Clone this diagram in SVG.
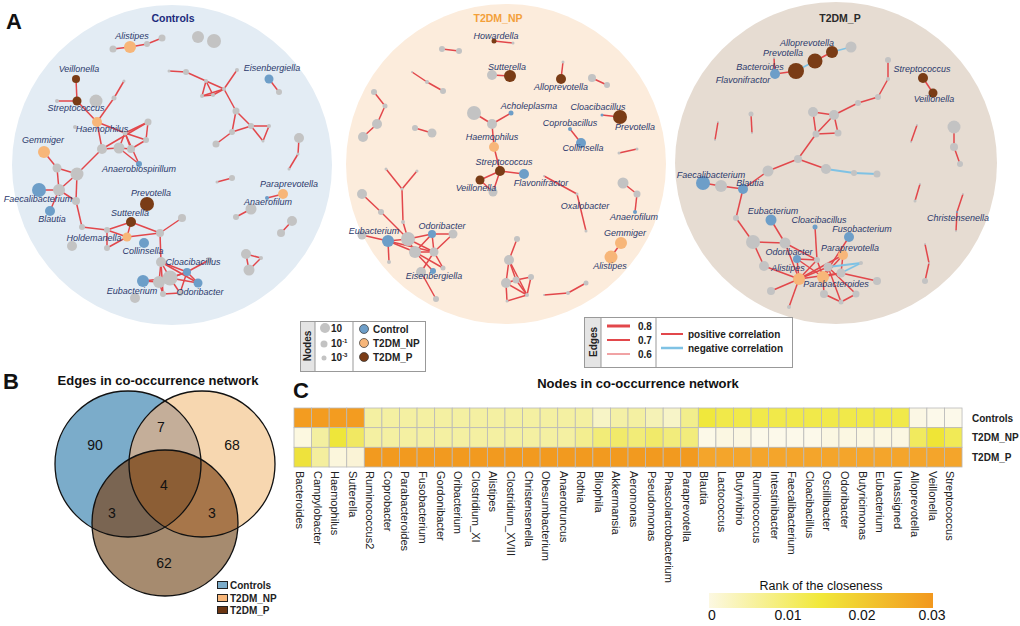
<svg xmlns="http://www.w3.org/2000/svg" width="1020" height="626" viewBox="0 0 1020 626">
<defs>
<style>
text{font-family:"Liberation Sans",Arial,sans-serif}
.g{fill:#c3c3c3}.b{fill:#6d9ec8}.o{fill:#f7b679}.br{fill:#7a3c16}
.e line{stroke:#e2474b;stroke-width:1.5}
.e line.n{stroke:#7fc2e4;stroke-width:1.8}
.lb{font-style:italic;font-size:9px;fill:#2c3a6c;text-anchor:middle}
.pl{font-weight:bold;font-size:22px;fill:#111}
.lg{font-weight:bold;font-size:10px;fill:#222}
.cl{font-size:11px;fill:#222}
.vn{font-size:14px;fill:#111;text-anchor:middle}
.hm rect{stroke:#b9b9b9;stroke-width:0.8}
</style>
<linearGradient id="cbar" x1="0" x2="1" y1="0" y2="0">
<stop offset="0" stop-color="#fcf8e2"/>
<stop offset="0.5" stop-color="#f1e83a"/>
<stop offset="1" stop-color="#f2981e"/>
</linearGradient>
<clipPath id="cA"><circle cx="128" cy="464" r="73"/></clipPath>
<clipPath id="cB"><circle cx="202" cy="464" r="73"/></clipPath>
</defs>
<rect width="1020" height="626" fill="#fff"/>

<!-- panel backgrounds -->
<circle cx="172" cy="165" r="160" fill="#e3ecf4"/>
<circle cx="506" cy="164" r="160" fill="#fcecdc"/>
<circle cx="836" cy="163" r="161" fill="#e6dcd2"/>
<text class="pl" x="6" y="29">A</text>
<text x="173" y="22" font-weight="bold" font-size="10.5" fill="#1c2a7c" text-anchor="middle">Controls</text>
<text x="498" y="22" font-weight="bold" font-size="10.5" fill="#f3a03a" text-anchor="middle">T2DM_NP</text>
<text x="840" y="22" font-weight="bold" font-size="10.5" fill="#2a2a2a" text-anchor="middle">T2DM_P</text>

<g id="connectors" class="e">
<g id="edges-controls">
<line x1="113" y1="49" x2="130" y2="47"/><line x1="130" y1="47" x2="147" y2="44"/><line x1="147" y1="44" x2="162" y2="38"/>
<line x1="76" y1="79" x2="77" y2="101"/><line x1="57" y1="101" x2="77" y2="101"/><line x1="77" y1="101" x2="97" y2="122"/>
<line x1="97" y1="122" x2="114" y2="98"/><line x1="114" y1="98" x2="124" y2="81"/><line x1="97" y1="122" x2="102" y2="149"/>
<line x1="97" y1="122" x2="125" y2="133"/><line x1="102" y1="149" x2="119" y2="148"/><line x1="102" y1="149" x2="148" y2="122"/>
<line x1="119" y1="148" x2="125" y2="133"/><line x1="119" y1="148" x2="131" y2="149"/><line x1="125" y1="133" x2="148" y2="122"/>
<line x1="125" y1="133" x2="146" y2="140"/><line x1="131" y1="149" x2="146" y2="140"/><line x1="146" y1="140" x2="148" y2="122"/>
<line x1="119" y1="148" x2="139" y2="164"/><line x1="125" y1="133" x2="139" y2="164"/><line x1="131" y1="149" x2="125" y2="133"/>
<line x1="44" y1="152" x2="57" y2="168"/><line x1="57" y1="168" x2="77" y2="174"/><line x1="57" y1="168" x2="59" y2="190"/>
<line x1="77" y1="174" x2="59" y2="190"/><line x1="39" y1="190" x2="59" y2="190"/><line x1="59" y1="190" x2="76" y2="201"/>
<line x1="77" y1="174" x2="76" y2="201"/><line x1="59" y1="190" x2="50" y2="211"/><line x1="77" y1="174" x2="102" y2="149"/>
<line x1="76" y1="201" x2="82" y2="227"/><line x1="82" y1="227" x2="107" y2="230"/><line x1="107" y1="230" x2="131" y2="222"/>
<line x1="107" y1="230" x2="127" y2="237"/><line x1="131" y1="222" x2="127" y2="237"/><line x1="107" y1="230" x2="107" y2="248"/>
<line x1="107" y1="248" x2="127" y2="237"/><line x1="127" y1="237" x2="160" y2="233"/><line x1="131" y1="222" x2="160" y2="233"/>
<line x1="160" y1="233" x2="182" y2="218"/><line x1="160" y1="233" x2="161" y2="262"/>
<line x1="161" y1="262" x2="170" y2="278"/><line x1="161" y1="262" x2="159" y2="282"/><line x1="161" y1="262" x2="187" y2="272"/>
<line x1="161" y1="262" x2="198" y2="283"/><line x1="161" y1="262" x2="163" y2="294"/><line x1="143" y1="281" x2="159" y2="282"/>
<line x1="143" y1="281" x2="170" y2="278"/><line x1="159" y1="282" x2="163" y2="294"/><line x1="170" y1="278" x2="187" y2="272"/>
<line x1="170" y1="278" x2="180" y2="293"/><line x1="187" y1="272" x2="209" y2="260"/><line x1="187" y1="272" x2="198" y2="283"/>
<line x1="187" y1="272" x2="180" y2="293"/><line x1="159" y1="282" x2="187" y2="272"/><line x1="163" y1="294" x2="180" y2="293"/>
<line x1="170" y1="278" x2="198" y2="283"/>
<line x1="169" y1="71" x2="186" y2="72"/><line x1="186" y1="72" x2="206" y2="81"/><line x1="206" y1="81" x2="224" y2="89"/>
<line x1="237" y1="70" x2="224" y2="89"/><line x1="206" y1="81" x2="202" y2="96"/><line x1="202" y1="96" x2="224" y2="89"/>
<line x1="206" y1="81" x2="213" y2="95"/><line x1="213" y1="95" x2="224" y2="89"/><line x1="202" y1="96" x2="213" y2="95"/>
<line x1="224" y1="89" x2="236" y2="111"/><line x1="236" y1="111" x2="251" y2="126"/><line x1="236" y1="111" x2="232" y2="132"/>
<line x1="232" y1="132" x2="251" y2="126"/><line x1="251" y1="126" x2="269" y2="126"/><line x1="269" y1="126" x2="263" y2="141"/>
<line x1="251" y1="126" x2="263" y2="141"/><line x1="232" y1="132" x2="216" y2="144"/>
<line x1="269" y1="79" x2="279" y2="92"/>
<line x1="299" y1="138" x2="298" y2="154"/><line x1="298" y1="154" x2="289" y2="169"/>
<line x1="232" y1="178" x2="217" y2="182"/>
<line x1="283" y1="194" x2="267" y2="198"/><line x1="251" y1="209" x2="236" y2="217"/>
<line x1="292" y1="221" x2="281" y2="233"/>
<line x1="246" y1="254" x2="261" y2="258"/><line x1="261" y1="258" x2="249" y2="270"/><line x1="246" y1="254" x2="249" y2="270"/>
</g>
<g id="edges-t2dm-np">
<line x1="494" y1="41" x2="513" y2="43"/><line x1="442" y1="49" x2="459" y2="51"/><line x1="492" y1="75" x2="510" y2="76"/>
<line x1="563" y1="62" x2="561" y2="79"/><line x1="592" y1="78" x2="607" y2="85"/>
<line x1="412" y1="72" x2="427" y2="82"/><line x1="427" y1="82" x2="443" y2="91"/>
<line x1="374" y1="92" x2="385" y2="106"/><line x1="385" y1="106" x2="377" y2="124"/><line x1="377" y1="124" x2="363" y2="137"/>
<line x1="415" y1="128" x2="432" y2="133"/>
<line x1="474" y1="113" x2="492" y2="124"/><line x1="492" y1="124" x2="511" y2="113"/><line x1="492" y1="124" x2="494" y2="147"/>
<line x1="494" y1="147" x2="500" y2="171"/><line x1="500" y1="171" x2="524" y2="174"/><line x1="500" y1="171" x2="480" y2="180"/>
<line x1="500" y1="171" x2="493" y2="192"/><line x1="480" y1="180" x2="493" y2="192"/>
<line x1="602" y1="115" x2="620" y2="117"/><line x1="570" y1="129" x2="581" y2="143"/><line x1="619" y1="153" x2="637" y2="149"/>
<line x1="544" y1="176" x2="577" y2="194"/><line x1="577" y1="194" x2="586" y2="231"/>
<line x1="623" y1="183" x2="637" y2="194"/><line x1="637" y1="194" x2="635" y2="212"/>
<line x1="621" y1="243" x2="611" y2="257"/>
<line x1="386" y1="169" x2="402" y2="189"/><line x1="417" y1="171" x2="402" y2="189"/><line x1="402" y1="189" x2="403" y2="222"/>
<line x1="362" y1="194" x2="381" y2="212"/><line x1="381" y1="212" x2="408" y2="239"/><line x1="403" y1="222" x2="408" y2="239"/>
<line x1="362" y1="235" x2="388" y2="241"/><line x1="388" y1="241" x2="408" y2="239"/><line x1="388" y1="241" x2="415" y2="252"/>
<line x1="388" y1="241" x2="389" y2="262"/><line x1="388" y1="241" x2="434" y2="252"/><line x1="408" y1="239" x2="432" y2="234"/>
<line x1="432" y1="234" x2="453" y2="234"/><line x1="408" y1="239" x2="415" y2="252"/><line x1="408" y1="239" x2="434" y2="252"/>
<line x1="415" y1="252" x2="434" y2="252"/><line x1="415" y1="252" x2="433" y2="271"/><line x1="415" y1="252" x2="443" y2="268"/>
<line x1="434" y1="252" x2="421" y2="272"/><line x1="434" y1="252" x2="443" y2="268"/><line x1="432" y1="234" x2="415" y2="252"/>
<line x1="432" y1="234" x2="434" y2="252"/><line x1="421" y1="272" x2="436" y2="299"/><line x1="453" y1="234" x2="434" y2="252"/>
<line x1="517" y1="239" x2="509" y2="260"/><line x1="509" y1="260" x2="506" y2="283"/><line x1="509" y1="260" x2="516" y2="280"/>
<line x1="506" y1="283" x2="516" y2="280"/><line x1="516" y1="280" x2="531" y2="277"/><line x1="516" y1="280" x2="527" y2="295"/>
<line x1="506" y1="283" x2="527" y2="295"/><line x1="507" y1="301" x2="527" y2="295"/><line x1="506" y1="283" x2="507" y2="301"/>
<line x1="531" y1="277" x2="527" y2="295"/><line x1="509" y1="260" x2="527" y2="295"/>
<line x1="544" y1="295" x2="568" y2="293"/><line x1="568" y1="293" x2="586" y2="283"/>
</g>
<g id="edges-t2dm-p">
<line class="n" x1="851" y1="47" x2="832" y2="52"/><line x1="832" y1="52" x2="815" y2="61"/><line class="n" x1="815" y1="61" x2="796" y2="71"/>
<line x1="796" y1="71" x2="775" y2="74"/><line x1="774" y1="58" x2="775" y2="74"/>
<line x1="923" y1="78" x2="933" y2="93"/>
<line x1="888" y1="60" x2="888" y2="79"/><line x1="888" y1="79" x2="878" y2="97"/><line x1="878" y1="97" x2="858" y2="103"/>
<line x1="858" y1="103" x2="834" y2="115"/><line x1="834" y1="115" x2="813" y2="112"/><line x1="813" y1="112" x2="816" y2="134"/>
<line x1="834" y1="115" x2="838" y2="133"/><line x1="816" y1="134" x2="838" y2="133"/><line x1="834" y1="115" x2="816" y2="134"/>
<line x1="816" y1="134" x2="798" y2="159"/><line x1="798" y1="159" x2="768" y2="171"/><line x1="798" y1="159" x2="826" y2="169"/>
<line class="n" x1="826" y1="169" x2="854" y2="173"/><line class="n" x1="854" y1="173" x2="877" y2="174"/>
<line x1="703" y1="183" x2="721" y2="186"/><line x1="721" y1="186" x2="743" y2="189"/><line x1="743" y1="189" x2="768" y2="171"/>
<line x1="743" y1="189" x2="736" y2="218"/><line x1="736" y1="218" x2="753" y2="242"/><line x1="753" y1="242" x2="764" y2="266"/>
<line x1="771" y1="220" x2="785" y2="243"/><line x1="753" y1="242" x2="785" y2="243"/><line x1="785" y1="243" x2="799" y2="279"/>
<line x1="785" y1="243" x2="817" y2="260"/><line x1="764" y1="266" x2="799" y2="279"/><line x1="799" y1="279" x2="771" y2="291"/>
<line x1="799" y1="279" x2="789" y2="307"/><line x1="799" y1="279" x2="817" y2="260"/><line x1="799" y1="279" x2="828" y2="267"/>
<line x1="799" y1="279" x2="841" y2="273"/><line x1="799" y1="279" x2="843" y2="255"/><line x1="799" y1="279" x2="797" y2="259"/>
<line x1="823" y1="277" x2="828" y2="267"/><line x1="823" y1="277" x2="841" y2="273"/><line x1="823" y1="277" x2="824" y2="294"/>
<line x1="823" y1="277" x2="843" y2="255"/><line x1="823" y1="277" x2="849" y2="237"/><line x1="823" y1="277" x2="817" y2="260"/>
<line x1="815" y1="227" x2="817" y2="260"/><line x1="843" y1="255" x2="841" y2="273"/><line x1="841" y1="273" x2="877" y2="281"/>
<line x1="828" y1="267" x2="856" y2="294"/><line x1="828" y1="267" x2="841" y2="302"/><line x1="824" y1="294" x2="841" y2="302"/>
<line x1="841" y1="302" x2="856" y2="294"/><line x1="797" y1="259" x2="823" y2="277"/><line x1="797" y1="259" x2="817" y2="260"/>
<line class="n" x1="828" y1="267" x2="861" y2="263"/><line class="n" x1="841" y1="273" x2="861" y2="263"/>
<line x1="718" y1="122" x2="715" y2="140"/><line x1="751" y1="114" x2="752" y2="133"/><line x1="917" y1="125" x2="911" y2="142"/>
<line x1="954" y1="127" x2="954" y2="147"/><line x1="954" y1="147" x2="960" y2="164"/><line x1="920" y1="184" x2="915" y2="201"/>
<line x1="963" y1="194" x2="957" y2="212"/><line x1="957" y1="212" x2="956" y2="231"/>
<line x1="925" y1="244" x2="929" y2="263"/><line x1="929" y1="263" x2="925" y2="281"/>
</g>
</g>

<g id="nodes-controls">
<circle class="g" cx="113" cy="49" r="3.5"/><circle class="g" cx="147" cy="44" r="3"/><circle class="g" cx="162" cy="38" r="3.5"/>
<circle class="g" cx="198" cy="37" r="6"/><circle class="g" cx="214" cy="41" r="7"/>
<circle class="g" cx="57" cy="101" r="2"/><circle class="g" cx="96" cy="101" r="6.5"/><circle class="g" cx="114" cy="98" r="2.5"/>
<circle class="g" cx="124" cy="81" r="1.5"/><circle class="g" cx="75" cy="127" r="2"/>
<circle class="g" cx="102" cy="149" r="5"/><circle class="g" cx="119" cy="148" r="5.5"/><circle class="g" cx="131" cy="149" r="4"/>
<circle class="g" cx="125" cy="133" r="2.5"/><circle class="g" cx="148" cy="122" r="3.5"/><circle class="g" cx="146" cy="140" r="3"/>
<circle class="g" cx="57" cy="168" r="4.5"/><circle class="g" cx="77" cy="174" r="6.5"/><circle class="g" cx="59" cy="190" r="6"/>
<circle class="g" cx="76" cy="201" r="4"/><circle class="g" cx="82" cy="227" r="3"/><circle class="g" cx="107" cy="230" r="3"/>
<circle class="g" cx="72" cy="246" r="5"/><circle class="g" cx="107" cy="248" r="3"/><circle class="g" cx="160" cy="233" r="4"/>
<circle class="g" cx="182" cy="218" r="4"/><circle class="g" cx="161" cy="262" r="5"/><circle class="g" cx="170" cy="278" r="7.5"/>
<circle class="g" cx="159" cy="282" r="6"/><circle class="g" cx="163" cy="294" r="3"/><circle class="g" cx="135" cy="298" r="5"/>
<circle class="g" cx="209" cy="260" r="3"/><circle class="g" cx="180" cy="293" r="3"/>
<circle class="g" cx="169" cy="71" r="1.5"/><circle class="g" cx="186" cy="72" r="3"/><circle class="g" cx="237" cy="70" r="2"/>
<circle class="g" cx="206" cy="81" r="2"/><circle class="g" cx="224" cy="89" r="2"/><circle class="g" cx="202" cy="96" r="2"/>
<circle class="g" cx="213" cy="95" r="2"/><circle class="g" cx="236" cy="111" r="3.5"/><circle class="g" cx="251" cy="126" r="3"/>
<circle class="g" cx="269" cy="126" r="2"/><circle class="g" cx="263" cy="141" r="1.5"/><circle class="g" cx="232" cy="132" r="3"/>
<circle class="g" cx="216" cy="144" r="3.5"/><circle class="g" cx="279" cy="92" r="3"/>
<circle class="g" cx="299" cy="138" r="5"/><circle class="g" cx="298" cy="154" r="1.5"/><circle class="g" cx="289" cy="169" r="1.5"/>
<circle class="g" cx="232" cy="178" r="3"/><circle class="g" cx="217" cy="182" r="1.5"/>
<circle class="g" cx="251" cy="209" r="5.5"/><circle class="g" cx="236" cy="217" r="3"/>
<circle class="g" cx="292" cy="221" r="5"/><circle class="g" cx="281" cy="233" r="4"/>
<circle class="g" cx="246" cy="254" r="5"/><circle class="g" cx="261" cy="258" r="2"/><circle class="g" cx="249" cy="270" r="5.5"/>
<g id="c-alistipes"><circle class="o" cx="130" cy="47" r="6"/><text class="lb" x="132" y="39">Alistipes</text></g>
<g id="c-veillonella"><circle class="br" cx="76" cy="79" r="4"/><text class="lb" x="79" y="72">Veillonella</text></g>
<g id="c-streptococcus"><circle class="br" cx="77" cy="101" r="4.5"/><text class="lb" x="76" y="111">Streptococcus</text></g>
<g id="c-haemophilus"><circle class="o" cx="97" cy="122" r="5"/><text class="lb" x="102" y="132">Haemophilus</text></g>
<g id="c-gemmiger"><circle class="o" cx="44" cy="152" r="6"/><text class="lb" x="43" y="143">Gemmiger</text></g>
<g id="c-anaerobiospirillum"><circle class="b" cx="139" cy="164" r="3"/><text class="lb" x="139" y="172">Anaerobiospirillum</text></g>
<g id="c-faecalibacterium"><circle class="b" cx="39" cy="190" r="7"/><text class="lb" x="38" y="202">Faecalibacterium</text></g>
<g id="c-blautia"><circle class="b" cx="50" cy="211" r="5"/><text class="lb" x="52" y="222">Blautia</text></g>
<g id="c-prevotella"><circle class="br" cx="147" cy="204" r="7"/><text class="lb" x="151" y="196">Prevotella</text></g>
<g id="c-sutterella"><circle class="br" cx="131" cy="222" r="5"/><text class="lb" x="130" y="216">Sutterella</text></g>
<g id="c-holdemanella"><circle class="o" cx="127" cy="237" r="4.5"/><text class="lb" x="94" y="241">Holdemanella</text></g>
<g id="c-collinsella"><circle class="b" cx="144" cy="243" r="5"/><text class="lb" x="143" y="254">Collinsella</text></g>
<g id="c-cloacibacillus"><circle class="b" cx="187" cy="272" r="4"/><text class="lb" x="193" y="265">Cloacibacillus</text></g>
<g id="c-eubacterium"><circle class="b" cx="143" cy="281" r="6"/><text class="lb" x="132" y="294">Eubacterium</text></g>
<g id="c-odoribacter"><circle class="b" cx="198" cy="283" r="4.5"/><text class="lb" x="200" y="295">Odoribacter</text></g>
<g id="c-eisenbergiella"><circle class="b" cx="269" cy="79" r="4.5"/><text class="lb" x="272" y="71">Eisenbergiella</text></g>
<g id="c-paraprevotella"><circle class="o" cx="283" cy="194" r="5"/><text class="lb" x="289" y="187">Paraprevotella</text></g>
<g id="c-anaerofilum"><circle class="b" cx="267" cy="198" r="2"/><text class="lb" x="268" y="205">Anaerofilum</text></g>
</g>

<g id="nodes-t2dm-np">
<circle class="g" cx="513" cy="43" r="1.5"/><circle class="g" cx="442" cy="49" r="3"/><circle class="g" cx="459" cy="51" r="3"/>
<circle class="g" cx="492" cy="75" r="5"/><circle class="g" cx="563" cy="62" r="1.5"/><circle class="g" cx="592" cy="78" r="4"/>
<circle class="g" cx="607" cy="85" r="3"/><circle class="g" cx="412" cy="72" r="1"/><circle class="g" cx="427" cy="82" r="2"/>
<circle class="g" cx="443" cy="91" r="3"/><circle class="g" cx="374" cy="92" r="3"/><circle class="g" cx="385" cy="106" r="2.5"/>
<circle class="g" cx="377" cy="124" r="5"/><circle class="g" cx="363" cy="137" r="5"/><circle class="g" cx="415" cy="128" r="3"/>
<circle class="g" cx="432" cy="133" r="4.5"/><circle class="g" cx="474" cy="113" r="7"/><circle class="g" cx="492" cy="124" r="5"/>
<circle class="g" cx="493" cy="192" r="4.5"/><circle class="g" cx="619" cy="153" r="1.5"/><circle class="g" cx="637" cy="149" r="1.5"/>
<circle class="g" cx="544" cy="176" r="1"/><circle class="g" cx="577" cy="194" r="1.5"/><circle class="g" cx="586" cy="231" r="1.5"/>
<circle class="g" cx="623" cy="183" r="5.5"/><circle class="g" cx="637" cy="194" r="3.5"/>
<circle class="g" cx="386" cy="169" r="1.5"/><circle class="g" cx="417" cy="171" r="1.5"/><circle class="g" cx="402" cy="189" r="1.5"/>
<circle class="g" cx="403" cy="222" r="2"/><circle class="g" cx="362" cy="194" r="5"/><circle class="g" cx="381" cy="212" r="3"/>
<circle class="g" cx="362" cy="235" r="4.5"/><circle class="g" cx="408" cy="239" r="7"/><circle class="g" cx="453" cy="234" r="4.5"/>
<circle class="g" cx="415" cy="252" r="6"/><circle class="g" cx="434" cy="252" r="4.5"/><circle class="g" cx="389" cy="262" r="2"/>
<circle class="g" cx="421" cy="272" r="5"/><circle class="g" cx="443" cy="268" r="2.5"/><circle class="g" cx="436" cy="299" r="3"/>
<circle class="g" cx="517" cy="239" r="3"/><circle class="g" cx="509" cy="260" r="5"/><circle class="g" cx="506" cy="283" r="5"/>
<circle class="g" cx="516" cy="280" r="3.5"/><circle class="g" cx="531" cy="277" r="3"/><circle class="g" cx="527" cy="295" r="2"/>
<circle class="g" cx="507" cy="301" r="1.5"/><circle class="g" cx="544" cy="295" r="1"/><circle class="g" cx="568" cy="293" r="2"/>
<circle class="g" cx="586" cy="283" r="2.5"/>
<g id="np-howardella"><circle class="br" cx="494" cy="41" r="2.5"/><text class="lb" x="496" y="39">Howardella</text></g>
<g id="np-sutterella"><circle class="br" cx="510" cy="76" r="6"/><text class="lb" x="507" y="70">Sutterella</text></g>
<g id="np-alloprevotella"><circle class="br" cx="561" cy="79" r="5"/><text class="lb" x="561" y="90">Alloprevotella</text></g>
<g id="np-acholeplasma"><circle class="b" cx="511" cy="113" r="2.5"/><text class="lb" x="529" y="109">Acholeplasma</text></g>
<g id="np-cloacibacillus"><circle class="b" cx="602" cy="115" r="1.5"/><text class="lb" x="598" y="110">Cloacibacillus</text></g>
<g id="np-prevotella"><circle class="br" cx="620" cy="117" r="7"/><text class="lb" x="635" y="130">Prevotella</text></g>
<g id="np-coprobacillus"><circle class="b" cx="570" cy="129" r="2"/><text class="lb" x="570" y="126">Coprobacillus</text></g>
<g id="np-haemophilus"><circle class="o" cx="494" cy="147" r="5"/><text class="lb" x="492" y="140">Haemophilus</text></g>
<g id="np-collinsella"><circle class="b" cx="581" cy="143" r="5"/><text class="lb" x="583" y="151">Collinsella</text></g>
<g id="np-streptococcus"><circle class="br" cx="500" cy="171" r="5"/><text class="lb" x="504" y="165">Streptococcus</text></g>
<g id="np-flavonifractor"><circle class="b" cx="524" cy="174" r="5"/><text class="lb" x="541" y="186">Flavonifractor</text></g>
<g id="np-veillonella"><circle class="br" cx="480" cy="180" r="4.5"/><text class="lb" x="476" y="191">Veillonella</text></g>
<g id="np-oxalobacter"><text class="lb" x="585" y="209">Oxalobacter</text></g>
<g id="np-anaerofilum"><circle class="b" cx="635" cy="212" r="2"/><text class="lb" x="634" y="220">Anaerofilum</text></g>
<g id="np-gemmiger"><circle class="o" cx="621" cy="243" r="6"/><text class="lb" x="625" y="236">Gemmiger</text></g>
<g id="np-alistipes"><circle class="o" cx="611" cy="257" r="6.5"/><text class="lb" x="610" y="269">Alistipes</text></g>
<g id="np-eubacterium"><circle class="b" cx="388" cy="241" r="6"/><text class="lb" x="374" y="234">Eubacterium</text></g>
<g id="np-odoribacter"><circle class="b" cx="432" cy="234" r="4"/><text class="lb" x="442" y="229">Odoribacter</text></g>
<g id="np-eisenbergiella"><circle class="b" cx="433" cy="271" r="3"/><text class="lb" x="434" y="279">Eisenbergiella</text></g>
</g>

<g id="nodes-t2dm-p">
<circle class="g" cx="851" cy="47" r="5.5"/><circle class="g" cx="774" cy="58" r="1"/>
<circle class="g" cx="888" cy="60" r="3"/><circle class="g" cx="888" cy="79" r="2"/><circle class="g" cx="878" cy="97" r="3"/>
<circle class="g" cx="858" cy="103" r="3"/><circle class="g" cx="834" cy="115" r="5"/><circle class="g" cx="813" cy="112" r="5"/>
<circle class="g" cx="816" cy="134" r="3.5"/><circle class="g" cx="838" cy="133" r="3.5"/><circle class="g" cx="798" cy="159" r="4"/>
<circle class="g" cx="768" cy="171" r="5.5"/><circle class="g" cx="826" cy="169" r="5"/><circle class="g" cx="854" cy="173" r="3"/>
<circle class="g" cx="877" cy="174" r="3.5"/><circle class="g" cx="721" cy="186" r="6"/><circle class="g" cx="736" cy="218" r="3"/>
<circle class="g" cx="753" cy="242" r="7"/><circle class="g" cx="764" cy="266" r="5"/><circle class="g" cx="785" cy="243" r="5.5"/>
<circle class="g" cx="817" cy="260" r="3"/><circle class="g" cx="828" cy="267" r="4.5"/><circle class="g" cx="841" cy="273" r="4.5"/>
<circle class="g" cx="861" cy="263" r="2"/><circle class="g" cx="771" cy="291" r="4"/><circle class="g" cx="789" cy="307" r="2"/>
<circle class="g" cx="824" cy="294" r="4"/><circle class="g" cx="841" cy="302" r="2.5"/><circle class="g" cx="856" cy="294" r="3.5"/>
<circle class="g" cx="877" cy="281" r="4"/>
<circle class="g" cx="718" cy="122" r="1"/><circle class="g" cx="715" cy="140" r="1"/><circle class="g" cx="751" cy="114" r="2.5"/>
<circle class="g" cx="752" cy="133" r="1"/><circle class="g" cx="917" cy="125" r="1"/><circle class="g" cx="911" cy="142" r="1"/>
<circle class="g" cx="954" cy="127" r="6.5"/><circle class="g" cx="954" cy="147" r="4"/><circle class="g" cx="960" cy="164" r="3"/>
<circle class="g" cx="920" cy="184" r="1"/><circle class="g" cx="915" cy="201" r="1.5"/><circle class="g" cx="963" cy="194" r="1"/>
<circle class="g" cx="956" cy="231" r="1"/><circle class="g" cx="925" cy="244" r="1"/><circle class="g" cx="929" cy="263" r="1"/>
<circle class="g" cx="925" cy="281" r="3"/>
<g id="p-alloprevotella"><circle class="br" cx="832" cy="52" r="6"/><text class="lb" x="807" y="46">Alloprevotella</text></g>
<g id="p-prevotella"><circle class="br" cx="815" cy="61" r="7.5"/><text class="lb" x="783" y="56">Prevotella</text></g>
<g id="p-bacteroides"><circle class="br" cx="796" cy="71" r="8"/><text class="lb" x="760" y="70">Bacteroides</text></g>
<g id="p-flavonifractor"><circle class="b" cx="775" cy="74" r="5"/><text class="lb" x="743" y="83">Flavonifractor</text></g>
<g id="p-streptococcus"><circle class="br" cx="923" cy="78" r="5"/><text class="lb" x="922" y="72">Streptococcus</text></g>
<g id="p-veillonella"><circle class="br" cx="933" cy="93" r="4.5"/><text class="lb" x="934" y="102">Veillonella</text></g>
<g id="p-faecalibacterium"><circle class="b" cx="703" cy="183" r="7"/><text class="lb" x="711" y="178">Faecalibacterium</text></g>
<g id="p-blautia"><circle class="b" cx="743" cy="189" r="5"/><text class="lb" x="750" y="186">Blautia</text></g>
<g id="p-eubacterium"><circle class="b" cx="771" cy="220" r="5.5"/><text class="lb" x="773" y="214">Eubacterium</text></g>
<g id="p-cloacibacillus"><circle class="b" cx="815" cy="227" r="2.5"/><text class="lb" x="819" y="223">Cloacibacillus</text></g>
<g id="p-fusobacterium"><circle class="b" cx="849" cy="237" r="5"/><text class="lb" x="862" y="232">Fusobacterium</text></g>
<g id="p-paraprevotella"><circle class="o" cx="843" cy="255" r="5"/><text class="lb" x="850" y="251">Paraprevotella</text></g>
<g id="p-odoribacter"><circle class="b" cx="797" cy="259" r="4"/><text class="lb" x="789" y="255">Odoribacter</text></g>
<g id="p-alistipes"><circle class="o" cx="799" cy="279" r="6"/><text class="lb" x="788" y="271">Alistipes</text></g>
<g id="p-parabacteroides"><circle class="o" cx="823" cy="277" r="6"/><text class="lb" x="836" y="287">Parabacteroides</text></g>
<g id="p-christensenella"><circle class="b" cx="957" cy="212" r="1"/><text class="lb" x="958" y="221">Christensenella</text></g>
</g>

<!-- Nodes legend -->
<g id="legend-nodes">
<rect x="300.5" y="321.5" width="125" height="50" fill="#fff" stroke="#999"/>
<rect x="300.5" y="321.5" width="14.5" height="50" fill="#e4e4e4" stroke="#999"/>
<line x1="353" y1="321.5" x2="353" y2="371.5" stroke="#999"/>
<text class="lg" transform="translate(311,346) rotate(-90)" text-anchor="middle">Nodes</text>
<circle class="g" cx="325" cy="328" r="5"/><text class="lg" x="331" y="332">10</text>
<circle class="g" cx="324" cy="344" r="3.5"/><text class="lg" x="331" y="347">10<tspan font-size="6" dy="-4">-1</tspan></text>
<circle class="g" cx="324" cy="358" r="2.5"/><text class="lg" x="331" y="361">10<tspan font-size="6" dy="-4">-3</tspan></text>
<circle class="b" cx="364" cy="329" r="4.5" stroke="#333" stroke-width="0.7"/><text class="lg" x="373" y="332.5">Control</text>
<circle class="o" cx="364" cy="343" r="4.5" stroke="#333" stroke-width="0.7"/><text class="lg" x="373" y="346.5">T2DM_NP</text>
<circle class="br" cx="364" cy="357" r="4.5" stroke="#333" stroke-width="0.7"/><text class="lg" x="373" y="360.5">T2DM_P</text>
</g>
<!-- Edges legend -->
<g id="legend-edges">
<rect x="584.5" y="317.5" width="208" height="50" fill="#fff" stroke="#999"/>
<rect x="584.5" y="317.5" width="16.5" height="50" fill="#e4e4e4" stroke="#999"/>
<line x1="656" y1="317.5" x2="656" y2="367.5" stroke="#999"/>
<text class="lg" transform="translate(597,342) rotate(-90)" text-anchor="middle">Edges</text>
<line x1="607" y1="326" x2="630" y2="326" stroke="#e2474b" stroke-width="3"/><text class="lg" x="638" y="329.5">0.8</text>
<line x1="607" y1="340" x2="630" y2="340" stroke="#e2474b" stroke-width="2"/><text class="lg" x="638" y="343.5">0.7</text>
<line x1="607" y1="354" x2="630" y2="354" stroke="#e2474b" stroke-width="1"/><text class="lg" x="638" y="357.5">0.6</text>
<line x1="661" y1="334" x2="683" y2="334" stroke="#e2474b" stroke-width="2"/><text class="lg" x="688" y="337.5">positive correlation</text>
<line x1="661" y1="348" x2="683" y2="348" stroke="#7fc2e4" stroke-width="2.5"/><text class="lg" x="688" y="351.5">negative correlation</text>
</g>

<!-- B Venn -->
<text class="pl" x="3" y="389">B</text>
<text x="158" y="385" font-weight="bold" font-size="13" fill="#111" text-anchor="middle">Edges in co-occurrence network</text>
<g id="venn">
<circle cx="128" cy="464" r="73" fill="#7bacca"/>
<circle cx="202" cy="464" r="73" fill="#f7d7b0"/>
<circle cx="165" cy="523" r="73" fill="#a68b6f"/>
<circle cx="202" cy="464" r="73" fill="#c4ae99" clip-path="url(#cA)"/>
<circle cx="165" cy="523" r="73" fill="#7a6552" clip-path="url(#cA)"/>
<circle cx="165" cy="523" r="73" fill="#a7764a" clip-path="url(#cB)"/>
<g clip-path="url(#cB)"><circle cx="165" cy="523" r="73" fill="#8c5e35" clip-path="url(#cA)"/></g>
<circle cx="128" cy="464" r="73" fill="none" stroke="#111" stroke-width="1.3"/>
<circle cx="202" cy="464" r="73" fill="none" stroke="#111" stroke-width="1.3"/>
<circle cx="165" cy="523" r="73" fill="none" stroke="#111" stroke-width="1.3"/>
<text class="vn" x="95" y="450">90</text>
<text class="vn" x="161" y="432">7</text>
<text class="vn" x="232" y="450">68</text>
<text class="vn" x="164" y="490">4</text>
<text class="vn" x="112" y="518">3</text>
<text class="vn" x="212" y="518">3</text>
<text class="vn" x="164" y="568">62</text>
</g>
<g id="venn-legend">
<rect x="217.5" y="581.5" width="10" height="7" fill="#7bacca" stroke="#222"/><text class="lg" x="230" y="589">Controls</text>
<rect x="217.5" y="594.5" width="10" height="7" fill="#f7b679" stroke="#222"/><text class="lg" x="230" y="602">T2DM_NP</text>
<rect x="217.5" y="606.5" width="10" height="7" fill="#6b3512" stroke="#222"/><text class="lg" x="230" y="614">T2DM_P</text>
</g>

<!-- C heatmap -->
<text class="pl" x="293" y="398">C</text>
<text x="638" y="388" font-weight="bold" font-size="13" fill="#111" text-anchor="middle">Nodes in co-occurrence network</text>
<g id="heatmap" class="hm">
<!-- row Controls -->
<g>
<rect x="294" y="408" width="17.58" height="19.67" fill="#f39c20"/><rect x="311.58" y="408" width="17.58" height="19.67" fill="#f39c20"/><rect x="329.16" y="408" width="17.58" height="19.67" fill="#f39c20"/><rect x="346.74" y="408" width="17.58" height="19.67" fill="#f39c20"/>
<rect x="364.32" y="408" width="17.58" height="19.67" fill="#f4f0a2"/><rect x="381.9" y="408" width="17.58" height="19.67" fill="#f4f0a2"/><rect x="399.48" y="408" width="17.58" height="19.67" fill="#f4f0a2"/><rect x="417.06" y="408" width="17.58" height="19.67" fill="#f4f0a2"/>
<rect x="434.64" y="408" width="17.58" height="19.67" fill="#f4f0a2"/><rect x="452.22" y="408" width="17.58" height="19.67" fill="#f4f0a2"/><rect x="469.8" y="408" width="17.58" height="19.67" fill="#f4f0a2"/><rect x="487.38" y="408" width="17.58" height="19.67" fill="#f4f0a2"/>
<rect x="504.96" y="408" width="17.58" height="19.67" fill="#f4f0a2"/><rect x="522.54" y="408" width="17.58" height="19.67" fill="#f4f0a2"/><rect x="540.12" y="408" width="17.58" height="19.67" fill="#f4f0a2"/><rect x="557.7" y="408" width="17.58" height="19.67" fill="#f4f0a2"/>
<rect x="575.28" y="408" width="17.58" height="19.67" fill="#f4f0a2"/><rect x="592.86" y="408" width="17.58" height="19.67" fill="#f7f4c6"/><rect x="610.44" y="408" width="17.58" height="19.67" fill="#f4f0a6"/><rect x="628.02" y="408" width="17.58" height="19.67" fill="#f4f0a2"/>
<rect x="645.6" y="408" width="17.58" height="19.67" fill="#f5f2b6"/><rect x="663.18" y="408" width="17.58" height="19.67" fill="#f7f4c8"/><rect x="680.76" y="408" width="17.58" height="19.67" fill="#f2ee8c"/><rect x="698.34" y="408" width="17.58" height="19.67" fill="#f0e83c"/>
<rect x="715.92" y="408" width="17.58" height="19.67" fill="#f1e94a"/><rect x="733.5" y="408" width="17.58" height="19.67" fill="#f1e94a"/><rect x="751.08" y="408" width="17.58" height="19.67" fill="#f1e94a"/><rect x="768.66" y="408" width="17.58" height="19.67" fill="#f1e94a"/>
<rect x="786.24" y="408" width="17.58" height="19.67" fill="#f1e94a"/><rect x="803.82" y="408" width="17.58" height="19.67" fill="#f1e94a"/><rect x="821.4" y="408" width="17.58" height="19.67" fill="#f1e94a"/><rect x="838.98" y="408" width="17.58" height="19.67" fill="#f1e94a"/>
<rect x="856.56" y="408" width="17.58" height="19.67" fill="#f1e94a"/><rect x="874.14" y="408" width="17.58" height="19.67" fill="#f1e94a"/><rect x="891.72" y="408" width="17.58" height="19.67" fill="#f1e94a"/><rect x="909.3" y="408" width="17.58" height="19.67" fill="#fbf7e4"/>
<rect x="926.88" y="408" width="17.58" height="19.67" fill="#fcf9ea"/><rect x="944.46" y="408" width="17.58" height="19.67" fill="#fcf9ea"/>
</g>
<!-- row T2DM_NP -->
<g>
<rect x="294" y="427.67" width="17.58" height="19.67" fill="#fcf8e0"/><rect x="311.58" y="427.67" width="17.58" height="19.67" fill="#f3efa0"/><rect x="329.16" y="427.67" width="17.58" height="19.67" fill="#eee63a"/><rect x="346.74" y="427.67" width="17.58" height="19.67" fill="#f1e862"/>
<rect x="364.32" y="427.67" width="17.58" height="19.67" fill="#f4f0a2"/><rect x="381.9" y="427.67" width="17.58" height="19.67" fill="#f4f0a2"/><rect x="399.48" y="427.67" width="17.58" height="19.67" fill="#f4f0a2"/><rect x="417.06" y="427.67" width="17.58" height="19.67" fill="#f4f0a2"/>
<rect x="434.64" y="427.67" width="17.58" height="19.67" fill="#f4f0a2"/><rect x="452.22" y="427.67" width="17.58" height="19.67" fill="#f4f0a2"/><rect x="469.8" y="427.67" width="17.58" height="19.67" fill="#f4f0a2"/><rect x="487.38" y="427.67" width="17.58" height="19.67" fill="#f4f0a2"/>
<rect x="504.96" y="427.67" width="17.58" height="19.67" fill="#f4f0a2"/><rect x="522.54" y="427.67" width="17.58" height="19.67" fill="#f4f0a2"/><rect x="540.12" y="427.67" width="17.58" height="19.67" fill="#f4f0a2"/><rect x="557.7" y="427.67" width="17.58" height="19.67" fill="#f4f0a2"/>
<rect x="575.28" y="427.67" width="17.58" height="19.67" fill="#f3ee90"/><rect x="592.86" y="427.67" width="17.58" height="19.67" fill="#f2ec78"/><rect x="610.44" y="427.67" width="17.58" height="19.67" fill="#f1ea6a"/><rect x="628.02" y="427.67" width="17.58" height="19.67" fill="#f2ec78"/>
<rect x="645.6" y="427.67" width="17.58" height="19.67" fill="#f1ea6a"/><rect x="663.18" y="427.67" width="17.58" height="19.67" fill="#f2ec7c"/><rect x="680.76" y="427.67" width="17.58" height="19.67" fill="#f2ec7c"/><rect x="698.34" y="427.67" width="17.58" height="19.67" fill="#fcf9e8"/>
<rect x="715.92" y="427.67" width="17.58" height="19.67" fill="#fbf7e2"/><rect x="733.5" y="427.67" width="17.58" height="19.67" fill="#fbf7e2"/><rect x="751.08" y="427.67" width="17.58" height="19.67" fill="#fcf9ea"/><rect x="768.66" y="427.67" width="17.58" height="19.67" fill="#fcf9ea"/>
<rect x="786.24" y="427.67" width="17.58" height="19.67" fill="#fcf9ea"/><rect x="803.82" y="427.67" width="17.58" height="19.67" fill="#fcf9ea"/><rect x="821.4" y="427.67" width="17.58" height="19.67" fill="#fbf7e2"/><rect x="838.98" y="427.67" width="17.58" height="19.67" fill="#fbf7e2"/>
<rect x="856.56" y="427.67" width="17.58" height="19.67" fill="#fbf7e2"/><rect x="874.14" y="427.67" width="17.58" height="19.67" fill="#fbf7e2"/><rect x="891.72" y="427.67" width="17.58" height="19.67" fill="#fbf7e2"/><rect x="909.3" y="427.67" width="17.58" height="19.67" fill="#f1ea5e"/>
<rect x="926.88" y="427.67" width="17.58" height="19.67" fill="#efe536"/><rect x="944.46" y="427.67" width="17.58" height="19.67" fill="#f1ea56"/>
</g>
<!-- row T2DM_P -->
<g>
<rect x="294" y="447.33" width="17.58" height="19.67" fill="#eee23c"/><rect x="311.58" y="447.33" width="17.58" height="19.67" fill="#f4ee9e"/><rect x="329.16" y="447.33" width="17.58" height="19.67" fill="#fbf6dc"/><rect x="346.74" y="447.33" width="17.58" height="19.67" fill="#faf3d6"/>
<rect x="364.32" y="447.33" width="17.58" height="19.67" fill="#f29a1f"/><rect x="381.9" y="447.33" width="17.58" height="19.67" fill="#f29a1f"/><rect x="399.48" y="447.33" width="17.58" height="19.67" fill="#f29a1f"/><rect x="417.06" y="447.33" width="17.58" height="19.67" fill="#f29a1f"/>
<rect x="434.64" y="447.33" width="17.58" height="19.67" fill="#f29a1f"/><rect x="452.22" y="447.33" width="17.58" height="19.67" fill="#f29a1f"/><rect x="469.8" y="447.33" width="17.58" height="19.67" fill="#f29a1f"/><rect x="487.38" y="447.33" width="17.58" height="19.67" fill="#f29a1f"/>
<rect x="504.96" y="447.33" width="17.58" height="19.67" fill="#f29a1f"/><rect x="522.54" y="447.33" width="17.58" height="19.67" fill="#f29a1f"/><rect x="540.12" y="447.33" width="17.58" height="19.67" fill="#f29a1f"/><rect x="557.7" y="447.33" width="17.58" height="19.67" fill="#f29a1f"/>
<rect x="575.28" y="447.33" width="17.58" height="19.67" fill="#f29a1f"/><rect x="592.86" y="447.33" width="17.58" height="19.67" fill="#f29a1f"/><rect x="610.44" y="447.33" width="17.58" height="19.67" fill="#f29a1f"/><rect x="628.02" y="447.33" width="17.58" height="19.67" fill="#f29a1f"/>
<rect x="645.6" y="447.33" width="17.58" height="19.67" fill="#f29a1f"/><rect x="663.18" y="447.33" width="17.58" height="19.67" fill="#f29a1f"/><rect x="680.76" y="447.33" width="17.58" height="19.67" fill="#f29a1f"/><rect x="698.34" y="447.33" width="17.58" height="19.67" fill="#f4a52b"/>
<rect x="715.92" y="447.33" width="17.58" height="19.67" fill="#f4a52b"/><rect x="733.5" y="447.33" width="17.58" height="19.67" fill="#f4a52b"/><rect x="751.08" y="447.33" width="17.58" height="19.67" fill="#f4a52b"/><rect x="768.66" y="447.33" width="17.58" height="19.67" fill="#f4a52b"/>
<rect x="786.24" y="447.33" width="17.58" height="19.67" fill="#f4a52b"/><rect x="803.82" y="447.33" width="17.58" height="19.67" fill="#f4a52b"/><rect x="821.4" y="447.33" width="17.58" height="19.67" fill="#f4a52b"/><rect x="838.98" y="447.33" width="17.58" height="19.67" fill="#f4a52b"/>
<rect x="856.56" y="447.33" width="17.58" height="19.67" fill="#f4a52b"/><rect x="874.14" y="447.33" width="17.58" height="19.67" fill="#f4a52b"/><rect x="891.72" y="447.33" width="17.58" height="19.67" fill="#f4a52b"/><rect x="909.3" y="447.33" width="17.58" height="19.67" fill="#f4a52b"/>
<rect x="926.88" y="447.33" width="17.58" height="19.67" fill="#f4a52b"/><rect x="944.46" y="447.33" width="17.58" height="19.67" fill="#f4a52b"/>
</g>
</g>
<g id="heatmap-row-labels">
<text class="lg" x="972" y="422">Controls</text>
<text class="lg" x="972" y="441">T2DM_NP</text>
<text class="lg" x="972" y="461">T2DM_P</text>
</g>
<g id="heatmap-col-labels" class="cl">
<text transform="translate(296,471) rotate(90)">Bacteroides</text>
<text transform="translate(313.58,471) rotate(90)">Campylobacter</text>
<text transform="translate(331.16,471) rotate(90)">Haemophilus</text>
<text transform="translate(348.74,471) rotate(90)">Sutterella</text>
<text transform="translate(366.32,471) rotate(90)">Ruminococcus2</text>
<text transform="translate(383.9,471) rotate(90)">Coprobacter</text>
<text transform="translate(401.48,471) rotate(90)">Parabacteroides</text>
<text transform="translate(419.06,471) rotate(90)">Fusobacterium</text>
<text transform="translate(436.64,471) rotate(90)">Gordonibacter</text>
<text transform="translate(454.22,471) rotate(90)">Oribacterium</text>
<text transform="translate(471.8,471) rotate(90)">Clostridium_XI</text>
<text transform="translate(489.38,471) rotate(90)">Alistipes</text>
<text transform="translate(506.96,471) rotate(90)">Clostridium_XVIII</text>
<text transform="translate(524.54,471) rotate(90)">Christensenella</text>
<text transform="translate(542.12,471) rotate(90)">Obesumbacterium</text>
<text transform="translate(559.7,471) rotate(90)">Anaerotruncus</text>
<text transform="translate(577.28,471) rotate(90)">Rothia</text>
<text transform="translate(594.86,471) rotate(90)">Bilophila</text>
<text transform="translate(612.44,471) rotate(90)">Akkermansia</text>
<text transform="translate(630.02,471) rotate(90)">Aeromonas</text>
<text transform="translate(647.6,471) rotate(90)">Pseudomonas</text>
<text transform="translate(665.18,471) rotate(90)">Phascolarctobacterium</text>
<text transform="translate(682.76,471) rotate(90)">Paraprevotella</text>
<text transform="translate(700.34,471) rotate(90)">Blautia</text>
<text transform="translate(717.92,471) rotate(90)">Lactococcus</text>
<text transform="translate(735.5,471) rotate(90)">Butyrivibrio</text>
<text transform="translate(753.08,471) rotate(90)">Ruminococcus</text>
<text transform="translate(770.66,471) rotate(90)">Intestinibacter</text>
<text transform="translate(788.24,471) rotate(90)">Faecalibacterium</text>
<text transform="translate(805.82,471) rotate(90)">Cloacibacillus</text>
<text transform="translate(823.4,471) rotate(90)">Oscillibacter</text>
<text transform="translate(840.98,471) rotate(90)">Odoribacter</text>
<text transform="translate(858.56,471) rotate(90)">Butyricimonas</text>
<text transform="translate(876.14,471) rotate(90)">Eubacterium</text>
<text transform="translate(893.72,471) rotate(90)">Unassigned</text>
<text transform="translate(911.3,471) rotate(90)">Alloprevotella</text>
<text transform="translate(928.88,471) rotate(90)">Veillonella</text>
<text transform="translate(946.46,471) rotate(90)">Streptococcus</text>
</g>
<g id="colorbar">
<text x="821" y="590" font-size="12.5" fill="#111" text-anchor="middle">Rank of the closeness</text>
<rect x="709" y="593" width="224" height="15" fill="url(#cbar)"/>
<text x="712" y="620" font-size="14" fill="#111" text-anchor="middle">0</text>
<text x="788" y="620" font-size="14" fill="#111" text-anchor="middle">0.01</text>
<text x="862" y="620" font-size="14" fill="#111" text-anchor="middle">0.02</text>
<text x="932" y="620" font-size="14" fill="#111" text-anchor="middle">0.03</text>
</g>
</svg>
